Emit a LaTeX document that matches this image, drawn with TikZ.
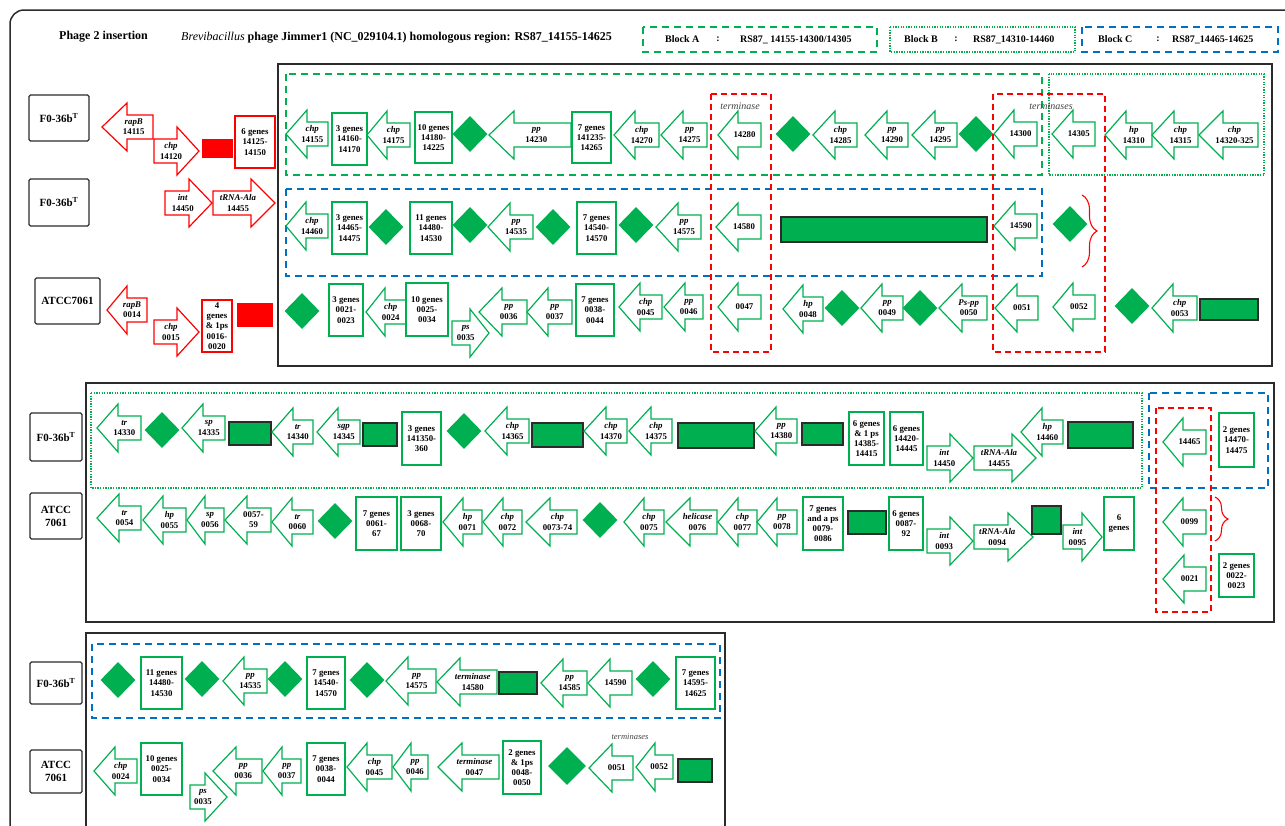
\documentclass[tikz,border=0pt]{standalone}
\usepackage{fontspec}
\setmainfont{Liberation Serif}
\usetikzlibrary{shapes.geometric, decorations.pathreplacing}
\definecolor{genegreen}{HTML}{00B050}
\definecolor{blockblue}{HTML}{0070C0}
\definecolor{framegray}{HTML}{2B2B2B}

\tikzset{
  gene/.style={draw=genegreen, line width=1.2pt, line join=miter},
  glabel/.style={font=\fontsize{8.8}{10.2}\selectfont\bfseries, align=center, inner sep=0pt},
  gbox/.style={draw=genegreen, line width=1.2pt, fill=white, glabel},
  gdiam/.style={diamond, fill=genegreen, minimum width=35pt, minimum height=36pt, inner sep=0pt},
  grect/.style={draw=framegray, fill=genegreen, line width=1.1pt, inner sep=0pt},
  rrect/.style={fill=red, inner sep=0pt},
  strain/.style={draw=framegray, line width=1.1pt, rounded corners=1.5pt, inner sep=0pt,
    font=\fontsize{11}{13}\selectfont\bfseries, align=center},
  frame/.style={draw=framegray, line width=1.5pt},
  blockA/.style={draw=genegreen, dash pattern=on 7pt off 5pt, line width=1.3pt},
  blockB/.style={draw=genegreen, dash pattern=on 1.3pt off 1.3pt, line width=1.3pt},
  blockC/.style={draw=blockblue, dash pattern=on 7pt off 5pt, line width=1.3pt},
  term/.style={draw=red, dash pattern=on 6pt off 4pt, line width=1.3pt},
  termtxt/.style={font=\fontsize{10}{12}\selectfont\itshape, text=black!75, inner sep=0pt},
  legend/.style={anchor=west, font=\fontsize{10}{12}\selectfont\bfseries, inner sep=0pt},
  rbrace/.style={draw=red, line width=1.1pt, decorate, decoration={brace, amplitude=#1}},
}

% left-pointing gene: [colour]{name}{tip}{head base}{end}{y}{label}
\newcommand{\lgene}[7][genegreen]{%
  \draw[gene, draw=#1] (#3,#6) -- (#4,#6-24) -- (#4,#6-12) -- (#5,#6-12)
    -- (#5,#6+12) -- (#4,#6+12) -- (#4,#6+24) -- cycle;
  \node[glabel] (#2) at ({(#3+#4+2*#5)/4},#6) {#7};}
% right-pointing gene: [colour]{name}{start}{head base}{tip}{y}{label}
\newcommand{\rgene}[7][genegreen]{%
  \draw[gene, draw=#1] (#5,#6) -- (#4,#6-24) -- (#4,#6-12) -- (#3,#6-12)
    -- (#3,#6+12) -- (#4,#6+12) -- (#4,#6+24) -- cycle;
  \node[glabel] (#2) at ({(2*#3+#4+#5)/4},#6) {#7};}
% box given by its corners: [style]{name}{x1}{y1}{x2}{y2}{text}
\newcommand{\gbx}[7][gbox]{%
  \node[#1, minimum width={(#5-#3)*1pt}, minimum height={(#6-#4)*1pt}]
    (#2) at ({(#3+#5)/2},{(#4+#6)/2}) {#7};}

\begin{document}
\begin{tikzpicture}[x=1pt, y=-1pt]
  \useasboundingbox (0,0) rectangle (1285,825);
  \draw[frame, rounded corners=14pt] (10,840) -- (10,10) -- (1300,10);

  % header
  \node[anchor=west, inner sep=0pt, font=\fontsize{12}{14}\selectfont\bfseries] (title) at (59,37) {Phage 2 insertion};
  \node[anchor=west, inner sep=0pt, font=\fontsize{12}{14}\selectfont\bfseries] (region) at (181,38)
    {\textit{\mdseries Brevibacillus} phage Jimmer1 (NC\_029104.1) homologous region: RS87\_14155-14625};
  \draw[blockA] (643,27) rectangle (877,52);
  \node[legend] (blkA) at (665,39.5) {Block A};
  \node[legend, anchor=center] (colA) at (718,39.5) {:};
  \node[legend] (rngA) at (740,39.5) {RS87\_ 14155-14300/14305};
  \draw[blockB] (890,27) rectangle (1075,52);
  \node[legend] (blkB) at (904,39.5) {Block B};
  \node[legend, anchor=center] (colB) at (956,39.5) {:};
  \node[legend] (rngB) at (973,39.5) {RS87\_14310-14460};
  \draw[blockC] (1082,27) rectangle (1278,52);
  \node[legend] (blkC) at (1098,39.5) {Block C};
  \node[legend, anchor=center] (colC) at (1158,39.5) {:};
  \node[legend] (rngC) at (1172,39.5) {RS87\_14465-14625};

  % ---- upper panel ----
  \gbx[strain]{sA}{29}{95}{89}{141}{F0-36b\textsuperscript{T}}
  \gbx[strain]{sB}{29}{179}{89}{226}{F0-36b\textsuperscript{T}}
  \gbx[strain]{sC}{35}{278}{100}{324}{ATCC7061}
  \draw[frame] (278,64) rectangle (1272,366);
  \draw[blockA] (286,74) rectangle (1042,175);
  \draw[blockB] (1049,74) rectangle (1264,175);
  \draw[blockC] (286,189) rectangle (1042,276);

  \lgene[red]{a14115}{102}{127}{153}{127}{\textit{rapB}\\14115}
  \rgene[red]{a14120}{154}{177}{199}{151}{\textit{chp}\\14120}
  \gbx[rrect]{aRed}{202}{139}{233}{158}{}
  \gbx[gbox, draw=red]{a14125}{235}{116}{275}{168}{6 genes\\14125-\\14150}
  \lgene{a14155}{286}{307}{328}{134}{\textit{chp}\\14155}
  \gbx{a14160}{332}{113}{367}{165}{3 genes\\14160-\\14170}
  \lgene{a14175}{367}{387}{410}{135}{\textit{chp}\\14175}
  \gbx{a14180}{415}{112}{452}{163}{10 genes\\14180-\\14225}
  \node[gdiam] (aD1) at (470,134) {};
  \lgene{a14230}{489}{514}{571}{135}{\textit{pp}\\14230}
  \gbx{a14235}{572}{112}{611}{163}{7 genes\\141235-\\14265}
  \lgene{a14270}{614}{635}{659}{135}{\textit{chp}\\14270}
  \lgene{a14275}{661}{683}{707}{135}{\textit{pp}\\14275}
  \lgene{a14280}{718}{738}{761}{135}{14280}
  \node[gdiam] (aD2) at (793,134) {};
  \lgene{a14285}{813}{835}{857}{135}{\textit{chp}\\14285}
  \lgene{a14290}{865}{887}{908}{135}{\textit{pp}\\14290}
  \lgene{a14295}{912}{935}{957}{135}{\textit{pp}\\14295}
  \node[gdiam] (aD3) at (976,134) {};
  \lgene{a14300}{994}{1014}{1037}{134}{14300}
  \lgene{a14305}{1052}{1073}{1095}{134}{14305}
  \lgene{a14310}{1105}{1126}{1152}{135}{\textit{hp}\\14310}
  \lgene{a14315}{1152}{1174}{1198}{135}{\textit{chp}\\14315}
  \lgene{a14320}{1199}{1223}{1258}{135}{\textit{chp}\\14320-325}

  \rgene[red]{b14450}{165}{189}{212}{203}{\textit{int}\\14450}
  \rgene[red]{b14455}{213}{251}{275}{203}{\textit{tRNA-Ala}\\14455}
  \lgene{b14460}{286}{306}{328}{226}{\textit{chp}\\14460}
  \gbx{b14465}{332}{202}{367}{254}{3 genes\\14465-\\14475}
  \node[gdiam] (bD1) at (386,227) {};
  \gbx{b14480}{410}{202}{452}{254}{11 genes\\14480-\\14530}
  \node[gdiam] (bD2) at (470,225) {};
  \lgene{b14535}{488}{510}{533}{227}{\textit{pp}\\14535}
  \node[gdiam] (bD3) at (553,227) {};
  \gbx{b14540}{577}{202}{616}{254}{7 genes\\14540-\\14570}
  \node[gdiam] (bD4) at (636,225) {};
  \lgene{b14575}{656}{678}{701}{227}{\textit{pp}\\14575}
  \lgene{b14580}{716}{738}{761}{227}{14580}
  \gbx[grect]{bRect}{781}{217}{987}{242}{}
  \lgene{b14590}{994}{1015}{1037}{226}{14590}
  \node[gdiam] (bD5) at (1070,224) {};

  \lgene[red]{c0014}{107}{127}{147}{310}{\textit{rapB}\\0014}
  \rgene[red]{c0015}{154}{177}{199}{332}{\textit{chp}\\0015}
  \gbx[gbox, draw=red]{c0016}{202}{300}{232}{352}{4\\genes\\\& 1ps\\0016-\\0020}
  \gbx[rrect]{cRed}{237}{303}{273}{327}{}
  \node[gdiam] (cD1) at (302,311) {};
  \gbx{c0021}{329}{284}{363}{336}{3 genes\\0021-\\0023}
  \lgene{c0024}{366}{385}{406}{312}{\textit{chp}\\0024}
  \gbx{c0025}{406}{283}{448}{336}{10 genes\\0025-\\0034}
  \rgene{c0035}{452}{470}{489}{333}{\textit{ps}\\0035}
  \lgene{c0036}{479}{502}{527}{312}{\textit{pp}\\0036}
  \lgene{c0037}{527}{548}{572}{312}{\textit{pp}\\0037}
  \gbx{c0038}{576}{284}{614}{336}{7 genes\\0038-\\0044}
  \lgene{c0045}{619}{640}{662}{307}{\textit{chp}\\0045}
  \lgene{c0046}{664}{685}{703}{307}{\textit{pp}\\0046}
  \lgene{c0047}{718}{738}{761}{307}{0047}
  \lgene{c0048}{783}{803}{823}{309}{\textit{hp}\\0048}
  \node[gdiam] (cD2) at (842,308) {};
  \lgene{c0049}{861}{882}{903}{308}{\textit{pp}\\0049}
  \node[gdiam] (cD3) at (920,308) {};
  \lgene{c0050}{939}{962}{987}{308}{\textit{Ps-pp}\\0050}
  \lgene{c0051}{995}{1017}{1038}{308}{0051}
  \lgene{c0052}{1053}{1073}{1095}{307}{0052}
  \node[gdiam] (cD4) at (1132,306) {};
  \lgene{c0053}{1152}{1173}{1197}{308}{\textit{chp}\\0053}
  \gbx[grect]{cRect}{1200}{299}{1258}{320}{}

  \draw[term] (711,94) rectangle (771,352);
  \node[termtxt] (termA) at (740,106) {terminase};
  \draw[term] (993,94) rectangle (1105,352);
  \node[termtxt] (termB) at (1051,106) {terminases};
  \draw[rbrace=15pt] (1082,195) -- (1082,267);

  % ---- middle panel ----
  \gbx[strain]{sD}{30}{413}{82}{461}{F0-36b\textsuperscript{T}}
  \gbx[strain]{sE}{30}{493}{82}{539}{ATCC\\7061}
  \draw[frame] (86,383) rectangle (1274,622);
  \draw[blockB] (91,393) rectangle (1142,488);
  \draw[blockC] (1149,393) rectangle (1268,488);

  \lgene{d14330}{97}{118}{141}{428}{\textit{tr}\\14330}
  \node[gdiam] (dD1) at (162,430) {};
  \lgene{d14335}{182}{203}{225}{428}{\textit{sp}\\14335}
  \gbx[grect]{dRect1}{229}{422}{271}{445}{}
  \lgene{d14340}{272}{293}{313}{432}{\textit{tr}\\14340}
  \lgene{d14345}{317}{338}{360}{432}{\textit{sgp}\\14345}
  \gbx[grect]{dRect2}{363}{423}{397}{446}{}
  \gbx{d14350}{402}{412}{441}{465}{3 genes\\141350-\\360}
  \node[gdiam] (dD2) at (464,431) {};
  \lgene{d14365}{485}{507}{529}{431}{\textit{chp}\\14365}
  \gbx[grect]{dRect3}{532}{423}{583}{447}{}
  \lgene{d14370}{584}{606}{627}{431}{\textit{chp}\\14370}
  \lgene{d14375}{629}{651}{672}{431}{\textit{chp}\\14375}
  \gbx[grect]{dRect4}{678}{423}{754}{448}{}
  \lgene{d14380}{755}{776}{797}{431}{\textit{pp}\\14380}
  \gbx[grect]{dRect5}{802}{423}{843}{445}{}
  \gbx{d14385}{849}{412}{884}{465}{6 genes\\\& 1 ps\\14385-\\14415}
  \gbx{d14420}{890}{412}{923}{465}{6 genes\\14420-\\14445}
  \rgene{d14450}{927}{950}{973}{458}{\textit{int}\\14450}
  \rgene{d14455}{974}{1012}{1036}{458}{\textit{tRNA-Ala}\\14455}
  \lgene{d14460}{1021}{1042}{1063}{432}{\textit{hp}\\14460}
  \gbx[grect]{dRect6}{1068}{422}{1133}{448}{}
  \lgene{d14465}{1163}{1183}{1206}{442}{14465}
  \gbx{d14470}{1219}{413}{1254}{467}{2 genes\\14470-\\14475}

  \lgene{e0054}{97}{119}{141}{518}{\textit{tr}\\0054}
  \lgene{e0055}{143}{163}{186}{520}{\textit{hp}\\0055}
  \lgene{e0056}{187}{205}{224}{520}{\textit{sp}\\0056}
  \lgene{e0057}{225}{247}{271}{520}{0057-\\59}
  \lgene{e0060}{272}{292}{313}{522}{\textit{tr}\\0060}
  \node[gdiam] (eD1) at (335,521) {};
  \gbx{e0061}{356}{497}{397}{550}{7 genes\\0061-\\67}
  \gbx{e0068}{401}{497}{441}{550}{3 genes\\0068-\\70}
  \lgene{e0071}{443}{463}{482}{522}{\textit{hp}\\0071}
  \lgene{e0072}{483}{503}{522}{522}{\textit{chp}\\0072}
  \lgene{e0073}{526}{550}{577}{522}{\textit{chp}\\0073-74}
  \node[gdiam] (eD2) at (600,520) {};
  \lgene{e0075}{624}{644}{664}{522}{\textit{chp}\\0075}
  \lgene{e0076}{666}{690}{717}{522}{\textit{helicase}\\0076}
  \lgene{e0077}{718}{738}{757}{522}{\textit{chp}\\0077}
  \lgene{e0078}{757}{777}{797}{522}{\textit{pp}\\0078}
  \gbx{e0079}{803}{497}{843}{550}{7 genes\\and a ps\\0079-\\0086}
  \gbx[grect]{eRect1}{848}{511}{886}{534}{}
  \gbx{e0087}{889}{497}{923}{550}{6 genes\\0087-\\92}
  \rgene{e0093}{927}{950}{973}{541}{\textit{int}\\0093}
  \rgene{e0094}{974}{1008}{1033}{537}{\textit{tRNA-Ala}\\0094}
  \gbx[grect]{eRect2}{1032}{506}{1061}{534}{}
  \rgene{e0095}{1063}{1082}{1102}{537}{\textit{int}\\0095}
  \gbx{e0096}{1104}{497}{1134}{550}{6\\genes}
  \lgene{e0099}{1163}{1183}{1206}{522}{0099}
  \lgene{e0021}{1163}{1184}{1206}{579}{0021}
  \gbx{e0022}{1219}{554}{1254}{597}{2 genes\\0022-\\0023}

  \draw[term] (1156,408) rectangle (1211,612);
  \draw[rbrace=13pt] (1215,497) -- (1215,541);

  % ---- lower panel ----
  \gbx[strain]{sF}{30}{662}{82}{704}{F0-36b\textsuperscript{T}}
  \gbx[strain]{sG}{30}{750}{82}{793}{ATCC\\7061}
  \draw[frame] (86,840) -- (86,633) -- (725,633) -- (725,840);
  \draw[blockC] (92,644) rectangle (720,718);

  \node[gdiam] (fD1) at (118,680) {};
  \gbx{f14480}{141}{657}{182}{709}{11 genes\\14480-\\14530}
  \node[gdiam] (fD2) at (202,679) {};
  \lgene{f14535}{223}{244}{267}{681}{\textit{pp}\\14535}
  \node[gdiam] (fD3) at (285,679) {};
  \gbx{f14540}{307}{657}{345}{709}{7 genes\\14540-\\14570}
  \node[gdiam] (fD4) at (367,680) {};
  \lgene{f14575}{386}{408}{436}{681}{\textit{pp}\\14575}
  \lgene{f14580}{437}{460}{497}{682}{\textit{terminase}\\14580}
  \gbx[grect]{fRect}{499}{672}{537}{694}{}
  \lgene{f14585}{541}{563}{587}{683}{\textit{pp}\\14585}
  \lgene{f14590}{588}{610}{632}{683}{14590}
  \node[gdiam] (fD5) at (653,679) {};
  \gbx{f14595}{676}{657}{715}{709}{7 genes\\14595-\\14625}

  \lgene{g0024}{94}{115}{137}{771}{\textit{chp}\\0024}
  \gbx{g0025}{141}{743}{182}{795}{10 genes\\0025-\\0034}
  \rgene{g0035}{190}{205}{227}{797}{\textit{ps}\\0035}
  \lgene{g0036}{213}{236}{262}{771}{\textit{pp}\\0036}
  \lgene{g0037}{263}{282}{301}{771}{\textit{pp}\\0037}
  \gbx{g0038}{307}{743}{345}{795}{7 genes\\0038-\\0044}
  \lgene{g0045}{347}{367}{392}{767}{\textit{chp}\\0045}
  \lgene{g0046}{393}{411}{428}{767}{\textit{pp}\\0046}
  \lgene{g0047}{438}{462}{499}{767}{\textit{terminase}\\0047}
  \gbx{g0048}{503}{741}{541}{794}{2 genes\\\& 1ps\\0048-\\0050}
  \node[gdiam, minimum width=38pt, minimum height=38pt] (gD1) at (567,766) {};
  \node[termtxt, font=\fontsize{8.5}{10}\selectfont\itshape] (termC) at (630,737) {terminases};
  \lgene{g0051}{589}{612}{633}{768}{0051}
  \lgene{g0052}{636}{655}{673}{767}{0052}
  \gbx[grect]{gRect}{678}{759}{712}{782}{}
\end{tikzpicture}
\end{document}
